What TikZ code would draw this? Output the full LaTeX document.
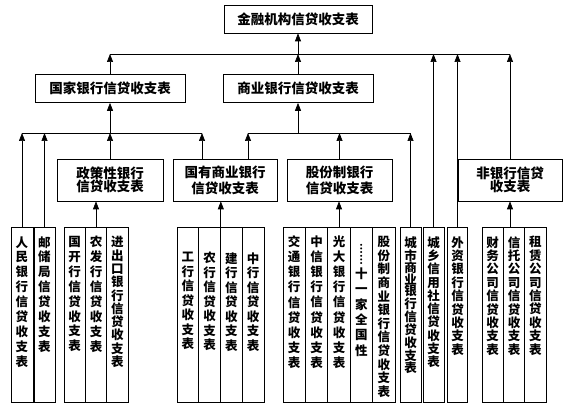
\documentclass[tikz,border=0pt]{standalone}
\usepackage{fontspec}
\usepackage{graphicx}
\setmainfont{Noto Sans CJK SC}
\XeTeXlinebreaklocale "zh"
\XeTeXlinebreakskip=0pt plus 1pt
\usetikzlibrary{arrows.meta}

% one character per line, top aligned in a tall column
\newcommand{\vcol}[3][9pt]{\parbox[t][175pt][t]{14pt}{\centering\fontsize{12.5}{#2}\selectfont\bfseries\vspace*{#1}#3}}

\begin{document}
\begin{tikzpicture}[x=1pt,y=-1pt,line width=0.7pt,
  hbox/.style={draw,inner sep=0pt,minimum height=28pt,font=\fontsize{13.5}{16}\selectfont\bfseries},
  mbox/.style={draw,inner sep=0pt,minimum height=42pt,align=center,font=\fontsize{13.5}{16}\selectfont\bfseries},
  col/.style={draw,anchor=north,inner sep=0pt,minimum width=21.5pt},
  arr/.style={-{Triangle[length=8pt,width=6pt]}}]

  \useasboundingbox (0,0) rectangle (570,414);

  %%%%%%%%%%%Draw the top box%%%%%%%%%%%
  \node[hbox,minimum width=148pt] (jinrong) at (298,19) {金融机构信贷收支表};

  %%%%%%%%%%%Draw the second row%%%%%%%%%%%
  \node[hbox,minimum width=150pt] (guojia) at (110,88.5) {国家银行信贷收支表};
  \node[hbox,minimum width=150pt] (shangye) at (298,88.5) {商业银行信贷收支表};

  %%%%%%%%%%%Draw the third row%%%%%%%%%%%
  \node[mbox,minimum width=106pt] (zhengce) at (110,180) {政策性银行\\[-3.5pt]信贷收支表};
  \node[mbox,minimum width=104pt] (guoyou) at (225,180) {国有商业银行\\信贷收支表};
  \node[mbox,minimum width=105pt] (gufen) at (339.5,180) {股份制银行\\信贷收支表};
  \node[mbox,minimum width=104pt] (feiyin) at (510,180) {非银行信贷\\[-3.5pt]收支表};

  %%%%%%%%%%%Draw the single columns%%%%%%%%%%%
  \node[col,minimum width=22pt] (renmin) at (22,227) {\vcol{14.9}{人民银行信贷收支表}};
  \node[col,minimum width=21pt] (youchu) at (44.5,227) {\vcol{14.9}{邮储局信贷收支表}};

  %%%%%%%%%%%Draw the policy bank columns%%%%%%%%%%%
  \node[col,minimum width=21.33pt] (guokai) at (74.67,227) {\vcol{14.9}{国开行信贷收支表}};
  \node[col,minimum width=21.33pt] (nongfa) at (96,227) {\vcol{14.9}{农发行信贷收支表}};
  \node[col,minimum width=21.33pt] (jinchukou) at (117.33,227) {\vcol{13.3}{进出口银行信贷收支表}};

  %%%%%%%%%%%Draw the state commercial bank columns%%%%%%%%%%%
  \node[col,minimum width=21.75pt] (gonghang) at (187.9,227) {\vcol[25pt]{14.5}{工行信贷收支表}};
  \node[col,minimum width=21.75pt] (nonghang) at (209.6,227) {\vcol[25pt]{14.5}{农行信贷收支表}};
  \node[col,minimum width=21.75pt] (jianhang) at (231.4,227) {\vcol[25pt]{14.5}{建行信贷收支表}};
  \node[col,minimum width=21.75pt] (zhonghang) at (253.1,227) {\vcol[25pt]{14.5}{中行信贷收支表}};

  %%%%%%%%%%%Draw the joint-stock bank columns%%%%%%%%%%%
  \node[col,minimum width=22.4pt] (jiaotong) at (294.2,227) {\vcol[8pt]{15.2}{交通银行信贷收支表}};
  \node[col,minimum width=22.4pt] (zhongxin) at (316.6,227) {\vcol[8pt]{15.2}{中信银行信贷收支表}};
  \node[col,minimum width=22.4pt] (guangda) at (339,227) {\vcol[8pt]{15.2}{光大银行信贷收支表}};
  \node[col,minimum width=22.4pt] (shiyi) at (361.4,227) {\vcol[16pt]{15.4}{\rotatebox[origin=c]{-90}{\fontsize{9.5}{9.5}\selectfont ……}\\[2pt]十一家全国性}};
  \node[col,minimum width=22.4pt] (gfsy) at (383.8,227) {\vcol{13.6}{股份制商业银行信贷收支表}};

  %%%%%%%%%%%Draw the other commercial columns%%%%%%%%%%%
  \node[col,minimum width=21pt] (chengshi) at (410.5,227) {\vcol{11.9}{城市商业银行信贷收支表}};
  \node[col,minimum width=21pt] (chengxiang) at (433.5,227) {\vcol{13.3}{城乡信用社信贷收支表}};
  \node[col,minimum width=20pt] (waizi) at (457.5,227) {\vcol{13.4}{外资银行信贷收支表}};

  %%%%%%%%%%%Draw the non-bank columns%%%%%%%%%%%
  \node[col,minimum width=21.33pt] (caiwu) at (492.7,227) {\vcol{13.4}{财务公司信贷收支表}};
  \node[col,minimum width=21.33pt] (xintuo) at (514,227) {\vcol{13.4}{信托公司信贷收支表}};
  \node[col,minimum width=21.33pt] (zulin) at (535.3,227) {\vcol{13.4}{租赁公司信贷收支表}};

  %%%%%%%%%%%Bus lines%%%%%%%%%%%
  \coordinate (topbus) at (0,54);
  \coordinate (lowbus) at (0,133);
  \coordinate (gyl) at ([xshift=-23pt]guoyou.north);
  \coordinate (gyr) at ([xshift=23pt]guoyou.north);

  %%%%%%%%%%%Draw the upper bus%%%%%%%%%%%
  \draw (guojia.north |- topbus) -- (feiyin.north |- topbus);
  \draw[arr] (shangye.north |- topbus) -- (jinrong.south);
  \draw[arr] (guojia.north) -- (guojia.north |- topbus);
  \draw[arr] (shangye.north) -- (shangye.north |- topbus);
  \draw[arr] (chengxiang.north) -- (chengxiang.north |- topbus);
  \draw[arr] (waizi.north) -- (waizi.north |- topbus);
  \draw[arr] (feiyin.north) -- (feiyin.north |- topbus);

  %%%%%%%%%%%Draw the state bank bus%%%%%%%%%%%
  \draw (renmin.north |- lowbus) -- (gyl |- lowbus);
  \draw[arr] (guojia.south |- lowbus) -- (guojia.south);
  \draw[arr] (renmin.north) -- (renmin.north |- lowbus);
  \draw[arr] (youchu.north) -- (youchu.north |- lowbus);
  \draw[arr] (zhengce.north) -- (zhengce.north |- lowbus);
  \draw[arr] (gyl) -- (gyl |- lowbus);

  %%%%%%%%%%%Draw the commercial bank bus%%%%%%%%%%%
  \draw (gyr |- lowbus) -- (chengshi.north |- lowbus);
  \draw[arr] (shangye.south |- lowbus) -- (shangye.south);
  \draw[arr] (gyr) -- (gyr |- lowbus);
  \draw[arr] (gufen.north) -- (gufen.north |- lowbus);
  \draw[arr] (chengshi.north) -- (chengshi.north |- lowbus);

  %%%%%%%%%%%Draw the group arrows%%%%%%%%%%%
  \draw[arr] (nongfa.north) -- (nongfa.north |- zhengce.south);
  \draw[arr] (nonghang.north east) -- (nonghang.north east |- guoyou.south);
  \draw[arr] (guangda.north) -- (guangda.north |- gufen.south);
  \draw[arr] (feiyin.south |- xintuo.north) -- (feiyin.south);
\end{tikzpicture}
\end{document}
